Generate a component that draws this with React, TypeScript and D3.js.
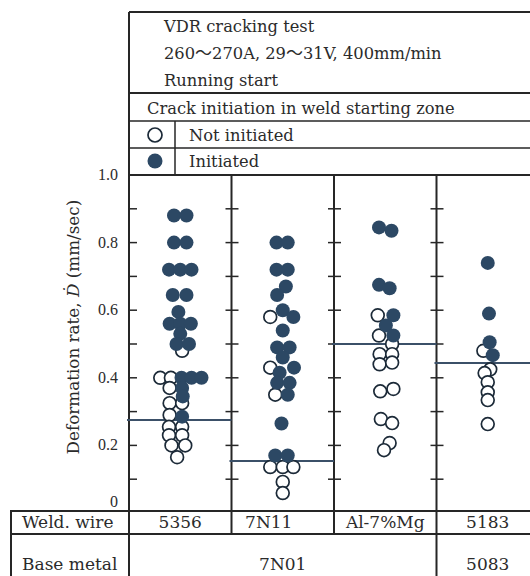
import React from "react";
import * as d3 from "d3";

const wires = ["5356", "7N11", "Al-7%Mg", "5183"];
const wireLabelShift = [0, -14, 0, 0];
const baseMetalLabels = ["7N01", "5083"];
const baseMetalSpans = [3, 1];
const thresholds = [0.275, 0.154, 0.5, 0.444];
const yTicks = [0, 0.2, 0.4, 0.6, 0.8, 1.0];
const yMinorTicks = [0.1, 0.2, 0.3, 0.4, 0.5, 0.6, 0.7, 0.8, 0.9];
const headerLines: string[][] = [["VDR cracking test"], ["260", "270A, 29", "31V, 400mm/min"], ["Running start"]];
const legendTitle = "Crack initiation in weld starting zone";
const legendLabels = ["Not initiated", "Initiated"];

// [value, lane offset (dot units), initiated 1/0]
const pts5356: [number, number, number][] = [
  [0.88, -0.5, 1], [0.88, 0.5, 1],
  [0.8, -0.5, 1], [0.8, 0.5, 1],
  [0.72, -0.9, 1], [0.72, 0, 1], [0.72, 0.9, 1],
  [0.645, -0.6, 1], [0.645, 0.5, 1],
  [0.595, -0.15, 1],
  [0.56, -0.85, 1], [0.56, 0, 1], [0.56, 0.85, 1],
  [0.53, 0, 1],
  [0.5, -0.3, 1], [0.5, 0.7, 1],
  [0.48, 0.15, 0],
  [0.4, -1.6, 0], [0.4, -0.75, 0], [0.4, 0.1, 1], [0.4, 0.9, 1], [0.4, 1.7, 1],
  [0.37, -0.85, 0], [0.37, 0.15, 1],
  [0.345, 0.2, 1],
  [0.325, -0.85, 0], [0.325, 0.15, 0],
  [0.29, -0.85, 0], [0.285, 0.15, 1],
  [0.255, -0.9, 0], [0.255, 0.15, 0],
  [0.23, -0.9, 0], [0.23, 0.15, 0],
  [0.2, -0.7, 0], [0.2, 0.4, 0],
  [0.165, -0.25, 0],
];
const pts7N11: [number, number, number][] = [
  [0.8, -0.5, 1], [0.8, 0.4, 1],
  [0.72, -0.5, 1], [0.72, 0.4, 1],
  [0.67, 0.25, 1], [0.645, -0.45, 1],
  [0.6, 0, 1], [0.58, -1.0, 0], [0.58, 0.85, 1], [0.54, 0, 1],
  [0.49, -0.45, 1], [0.49, 0.55, 1], [0.46, 0, 1], [0.43, -1.0, 0], [0.43, 0.9, 1], [0.415, -0.25, 1],
  [0.385, -0.45, 1], [0.385, 0.55, 1], [0.35, -0.6, 0], [0.35, 0.4, 1],
  [0.265, -0.1, 1],
  [0.17, -0.6, 1], [0.17, 0.4, 1],
  [0.136, -1, 0], [0.136, 0, 0], [0.136, 0.85, 0],
  [0.092, 0, 0], [0.059, 0, 0],
];
const ptsAl7Mg: [number, number, number][] = [
  [0.845, -0.5, 1], [0.835, 0.5, 1],
  [0.675, -0.5, 1], [0.665, 0.35, 1],
  [0.585, -0.6, 0], [0.585, 0.65, 1], [0.555, 0.05, 1], [0.525, -0.5, 0], [0.525, 0.65, 1],
  [0.5, 0.55, 0], [0.47, -0.45, 0], [0.47, 0.55, 0], [0.44, -0.45, 0], [0.445, 0.55, 0],
  [0.36, -0.4, 0], [0.367, 0.65, 0], [0.278, -0.35, 0], [0.266, 0.55, 0], [0.207, 0.35, 0], [0.186, -0.1, 0],
];
const pts5183: [number, number, number][] = [
  [0.74, 0, 1], [0.59, 0.1, 1], [0.505, 0.15, 1], [0.48, -0.35, 0], [0.467, 0.4, 1],
  [0.425, 0.2, 0], [0.414, -0.25, 0], [0.387, 0, 0], [0.357, 0, 0], [0.334, 0, 0], [0.263, 0, 0],
];
const series = [pts5356, pts7N11, ptsAl7Mg, pts5183];

const W = 530;
const H = 576;
const FILL = "#2c4864";
const OPEN = "#1c2a38";
const LINE = "#262626";
const TEXT = "#2b2b2b";
const SERIF = "'DejaVu Serif', serif";

export default function App() {
  const axisX = 129;
  const plotTop = 175;
  const tableTop = 511;
  const rowMid = 534;
  const tableLeft = 11;
  const headTop = 12;
  const lane = 12.5;
  const r = 7;

  const y = d3.scaleLinear().domain([0, 1]).range([513, 175]);
  const x = d3.scaleBand<string>().domain(wires).range([axisX, axisX + 4 * 102.5]).paddingInner(0).paddingOuter(0);
  const bw = x.bandwidth();
  const colLines = wires.map((w) => (x(w) as number) + bw);

  let acc = 0;
  const baseCells = baseMetalSpans.map((s, i) => {
    const x0 = x(wires[acc]) as number;
    const x1 = (x(wires[acc + s - 1]) as number) + bw;
    acc += s;
    return { label: baseMetalLabels[i], cx: (x0 + x1) / 2 };
  });

  return (
    <svg width={W} height={H} style={{ position: "absolute", left: 0, top: 0, background: "#fff" }} fontFamily={SERIF}>
      <rect x={0} y={0} width={W} height={H} fill="#fff" />
      {/* header box */}
      <g stroke={LINE} fill="none">
        <line x1={axisX} x2={W} y1={headTop} y2={headTop} strokeWidth={2} />
        <line x1={axisX} x2={axisX} y1={headTop} y2={H} strokeWidth={2} />
        <line x1={axisX} x2={W} y1={93} y2={93} strokeWidth={1.8} />
        <line x1={axisX} x2={W} y1={121} y2={121} strokeWidth={1.5} />
        <line x1={axisX} x2={W} y1={148} y2={148} strokeWidth={1.5} />
        <line x1={175} x2={175} y1={121} y2={plotTop} strokeWidth={1.5} />
        <line x1={axisX} x2={W} y1={plotTop} y2={plotTop} strokeWidth={2} />
      </g>
      <g fill={TEXT} fontSize={16.3}>
        {headerLines.map((parts, i) => (
          <text key={"h" + i} x={164} y={32 + i * 27}>
            {parts.map((p, k) => (
              <React.Fragment key={k}>
                {k > 0 ? <tspan fontFamily="'Noto Sans CJK JP', sans-serif" fontSize={17}>〜</tspan> : null}
                <tspan>{p}</tspan>
              </React.Fragment>
            ))}
          </text>
        ))}
        <text x={147} y={114}>{legendTitle}</text>
        <text x={189} y={141}>{legendLabels[0]}</text>
        <text x={189} y={167}>{legendLabels[1]}</text>
      </g>
      <circle cx={155} cy={135} r={7} fill="#fff" stroke={OPEN} strokeWidth={1.7} />
      <circle cx={155} cy={161} r={7.5} fill={FILL} />

      {/* column lines + ticks */}
      <g stroke={LINE}>
        {colLines.map((cx, i) => (
          <line key={"cl" + i} x1={cx} x2={cx} y1={plotTop} y2={i >= 2 ? H : rowMid} strokeWidth={2} />
        ))}
        {yMinorTicks.map((t) => (
          <line key={"lt" + t} x1={axisX} x2={axisX + 8} y1={y(t)} y2={y(t)} strokeWidth={1.5} />
        ))}
        {colLines.map((cx, i) =>
          yMinorTicks.map((t) => (
            <line key={"ct" + i + t} x1={cx - 6} x2={cx + 7} y1={y(t)} y2={y(t)} strokeWidth={1.5} />
          ))
        )}
      </g>
      <g fill={TEXT} fontSize={16} fontFamily="'Liberation Serif', serif" textAnchor="end">
        {yTicks.map((t) => (
          <text key={"yl" + t} x={118} y={t === 0 ? 507 : y(t) + 5}>
            {t === 0 ? "0" : t.toFixed(1)}
          </text>
        ))}
      </g>
      <text
        transform={`translate(79,${(y(0.15) + y(0.95)) / 2}) rotate(-90)`}
        textAnchor="middle"
        fontSize={16.8}
        fill={TEXT}
      >
        Deformation rate, <tspan fontStyle="italic">Ḋ</tspan> (mm/sec)
      </text>

      {/* thresholds */}
      <g stroke="#3b5068" strokeWidth={2}>
        {wires.map((w, i) => (
          <line key={"th" + w} x1={(x(w) as number) - 2} x2={Math.min((x(w) as number) + bw, W)} y1={y(thresholds[i])} y2={y(thresholds[i])} />
        ))}
      </g>

      {/* points */}
      {wires.map((w, i) => {
        const cx = (x(w) as number) + bw / 2;
        const pts = series[i];
        return (
          <g key={"p" + w}>
            {pts.filter((p) => p[2] === 0).map((p, j) => (
              <circle key={"o" + j} cx={cx + p[1] * lane} cy={y(p[0])} r={r - 0.6} fill="#fff" stroke={OPEN} strokeWidth={1.7} />
            ))}
            {pts.filter((p) => p[2] === 1).map((p, j) => (
              <circle key={"f" + j} cx={cx + p[1] * lane} cy={y(p[0])} r={r} fill={FILL} />
            ))}
          </g>
        );
      })}

      {/* table */}
      <rect x={tableLeft - 1} y={tableTop - 1} width={W - tableLeft + 1} height={2} fill={LINE} />
      <rect x={tableLeft - 1} y={rowMid - 1} width={W - tableLeft + 1} height={2} fill={LINE} />
      <rect x={tableLeft - 1} y={tableTop - 1} width={2} height={H - tableTop + 1} fill={LINE} />
      <g fill={TEXT} fontSize={17}>
        <text x={22} y={528}>Weld. wire</text>
        <text x={22} y={570}>Base metal</text>
        {wires.map((w, i) => (
          <text key={"wl" + w} x={(x(w) as number) + bw / 2 + wireLabelShift[i]} y={528} textAnchor="middle">{w}</text>
        ))}
        {baseCells.map((c) => (
          <text key={"bm" + c.label} x={c.cx} y={570} textAnchor="middle">{c.label}</text>
        ))}
      </g>
    </svg>
  );
}
